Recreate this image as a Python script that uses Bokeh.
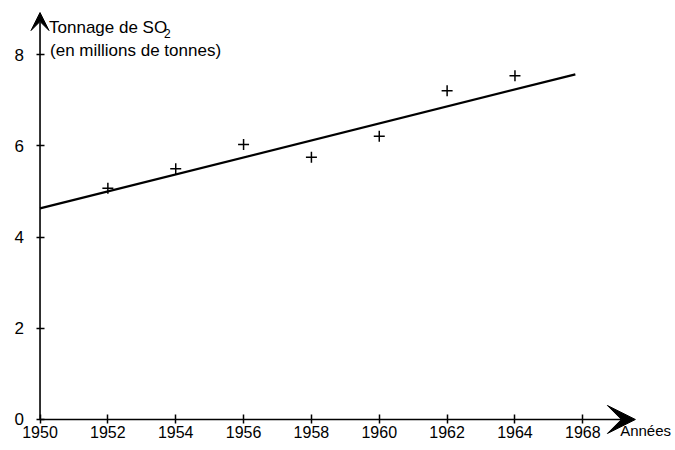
from bokeh.plotting import figure
from bokeh.models import Arrow, VeeHead, Label, FixedTicker, Range1d
from bokeh.embed import file_html
from bokeh.resources import INLINE

# data
years = [1952, 1954, 1956, 1958, 1960, 1962, 1964]
so2 = [5.07, 5.50, 6.03, 5.75, 6.21, 7.21, 7.54]
fit_years = [1950, 1965.78]
fit_values = [4.63, 7.57]
x_ticks = [1950, 1952, 1954, 1956, 1958, 1960, 1962, 1964, 1966]
x_tick_labels = ["1950", "1952", "1954", "1956", "1958", "1960", "1962", "1964", "1968"]
y_ticks = [0, 2, 4, 6, 8]

FONT = "Liberation Sans"

p = figure(width=675, height=450,
           x_range=Range1d(1948.835, 1968.732), y_range=Range1d(-0.680, 9.189),
           output_backend="svg", toolbar_location=None,
           min_border_left=0, min_border_right=0, min_border_top=0, min_border_bottom=0)
p.outline_line_color = None
p.grid.visible = False

# x axis (drawn at y = 0)
p.xaxis.fixed_location = 0
p.xaxis.ticker = FixedTicker(ticks=x_ticks)
p.xaxis.major_label_overrides = {t: l for t, l in zip(x_ticks, x_tick_labels)}
p.xaxis.axis_line_color = None
p.xaxis.major_tick_in = 5
p.xaxis.major_tick_out = 4
p.xaxis.major_tick_line_width = 1.5
p.xaxis.minor_tick_line_color = None
p.xaxis.major_label_standoff = 3
p.xaxis.major_label_text_font = FONT
p.xaxis.major_label_text_font_size = "16px"
p.xaxis.major_label_text_color = "black"

# y axis (drawn at x = 1950)
p.yaxis.fixed_location = 1950
p.yaxis.ticker = FixedTicker(ticks=y_ticks)
p.yaxis.axis_line_color = None
p.yaxis.major_tick_in = 4
p.yaxis.major_tick_out = 4
p.yaxis.major_tick_line_width = 1.5
p.yaxis.minor_tick_line_color = None
p.yaxis.major_label_standoff = 12
p.yaxis.major_label_text_font = FONT
p.yaxis.major_label_text_font_size = "17px"
p.yaxis.major_label_text_color = "black"

# axes with arrow heads
p.add_layout(Arrow(end=VeeHead(size=18, fill_color="black", line_color="black"),
                   x_start=1950, y_start=0, x_end=1950, y_end=8.925,
                   line_width=1.6, line_color="black"))
p.add_layout(Arrow(end=VeeHead(size=28, fill_color="black", line_color="black"),
                   x_start=1950, y_start=0, x_end=1967.55, y_end=0,
                   line_width=1.6, line_color="black"))

# fitted line and data points
p.line(fit_years, fit_values, line_width=2.2, line_color="black")
p.scatter(years, so2, marker="cross", size=11, line_width=1.5, line_color="black")

# texts
p.add_layout(Label(x=1950, y=8.596, x_offset=9, text="Tonnage de SO",
                   text_font=FONT, text_font_size="17px", text_color="black",
                   text_baseline="alphabetic"))
p.add_layout(Label(x=1950, y=8.465, x_offset=124, text="2",
                   text_font=FONT, text_font_size="12px", text_color="black",
                   text_baseline="alphabetic"))
p.add_layout(Label(x=1950, y=8.092, x_offset=10, text="(en millions de tonnes)",
                   text_font=FONT, text_font_size="17px", text_color="black",
                   text_baseline="alphabetic"))
p.add_layout(Label(x=1967.1, y=0, y_offset=-3, text="Années",
                   text_font=FONT, text_font_size="15px", text_color="black",
                   text_align="left", text_baseline="top"))

open("out.html", "w").write(file_html(p, INLINE))
